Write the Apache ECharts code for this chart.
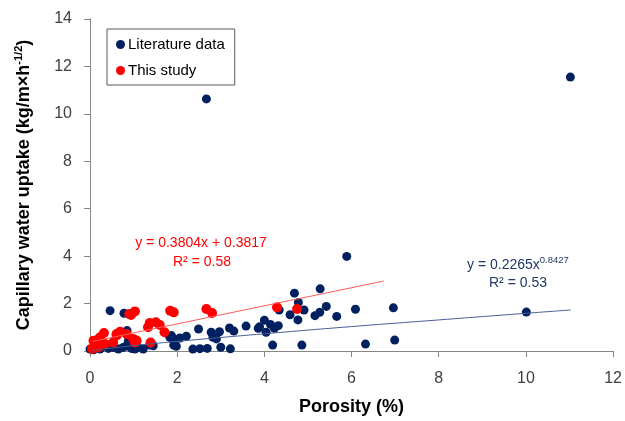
<!DOCTYPE html>
<html>
<head>
<meta charset="utf-8">
<script src="https://cdn.jsdelivr.net/npm/echarts@6/dist/echarts.min.js"></script>
<style>html,body{margin:0;padding:0;background:#fff}#c{width:625px;height:421px}</style>
</head>
<body>
<div id="c"></div>
<script>
// Data
const literatureData = [
  [0.00,0.08],[0.08,0.05],[0.23,0.08],[0.42,0.11],[0.53,0.15],[0.65,0.08],[0.76,0.15],[0.84,0.22],[0.95,0.11],[1.03,0.08],[1.10,0.15],[1.22,0.08],[1.37,0.25],[1.45,0.22],
  [0.46,1.70],[0.78,1.59],[0.85,0.86],[0.88,0.43],
  [1.83,0.58],[1.87,0.65],[1.90,0.48],[1.92,0.25],[1.98,0.20],[2.06,0.55],[2.21,0.62],[2.36,0.08],[2.49,0.93],[2.52,0.10],[2.67,10.63],[2.69,0.11],[2.78,0.79],[2.82,0.58],[2.90,0.51],[2.97,0.81],[3.00,0.16],[3.20,0.97],[3.22,0.09],[3.30,0.84],[3.58,1.05],[3.86,0.96],[3.89,1.02],[4.00,1.30],[4.04,0.79],[4.14,1.12],[4.19,0.25],[4.23,0.96],[4.32,1.07],[4.34,1.73],[4.59,1.53],[4.69,2.44],[4.77,1.31],[4.78,2.05],[4.86,0.25],[4.91,1.73],[5.16,1.49],[5.27,1.63],[5.28,2.62],[5.42,1.88],[5.66,1.46],[5.89,3.99],[6.09,1.76],[6.32,0.29],[6.96,1.82],[6.99,0.46],[10.01,1.64],[11.02,11.55]
];
const thisStudyData = [
  [0.05,0.10],[0.08,0.43],[0.12,0.22],[0.15,0.36],[0.19,0.15],[0.21,0.51],[0.23,0.58],[0.32,0.76],[0.34,0.30],[0.53,0.36],[0.61,0.65],[0.61,0.72],[0.69,0.81],[0.84,0.72],[0.90,1.56],[0.94,1.52],[0.99,0.51],[1.03,1.67],[1.03,0.36],[1.07,0.43],[1.33,1.00],[1.37,1.18],[1.39,0.36],[1.51,1.21],[1.60,1.10],[1.71,0.79],[1.84,1.70],[1.92,1.63],[2.67,1.77],[2.80,1.60],[4.29,1.84],[4.75,1.77]
];
// Trendlines
const literatureTrend = [[0.05,0.02],[0.5,0.126],[1,0.227],[2,0.405],[4,0.727],[6,1.03],[8,1.31],[10,1.59],[11.03,1.73]];
const thisStudyTrend = [[0.05,0.40],[6.74,2.95]];
const seriesNames = ['Literature data','This study'];
const xTicks = {min:0, max:12, interval:2};
const yTicks = {min:0, max:14, interval:2};
const eqStudy = ['y = 0.3804x + 0.3817','R² = 0.58'];
const eqLit = ['y = 0.2265x','0.8427','R² = 0.53'];

const NAVY = '#002060', RED = '#FF0000', AX = '#868686', LBL = '#404040', EQB = '#1F3864';
const FONT = 'Liberation Sans';

const chart = echarts.init(document.getElementById('c'), null, {renderer:'canvas'});
chart.setOption({
  animation: false,
  textStyle: {fontFamily: FONT},
  grid: {left: 90, right: 10, top: 19, bottom: 69, containLabel: false},
  legend: {
    orient: 'vertical', left: 107, top: 29,
    padding: [8, 10, 7, 9], itemGap: 11,
    itemWidth: 9, itemHeight: 9,
    backgroundColor: '#fff', borderColor: '#595959', borderWidth: 1,
    textStyle: {fontSize: 15, color: '#000', fontFamily: FONT, padding: [0,0,0,-2]},
    data: [{name: seriesNames[0], icon: 'circle'}, {name: seriesNames[1], icon: 'circle'}]
  },
  xAxis: {
    type: 'value', min: xTicks.min, max: xTicks.max, interval: xTicks.interval,
    name: 'Porosity (%)', nameLocation: 'middle', nameGap: 47,
    nameTextStyle: {fontSize: 18, fontWeight: 'bold', color: '#000', fontFamily: FONT},
    axisLine: {onZero: false, lineStyle: {color: AX, width: 1}},
    axisTick: {show: true, length: 6, inside: false, lineStyle: {color: AX}},
    axisLabel: {fontSize: 16, color: LBL, margin: 20, fontFamily: FONT},
    splitLine: {show: false}
  },
  yAxis: [{
    type: 'value', min: yTicks.min, max: yTicks.max, interval: yTicks.interval,
    name: '{a|Capillary water uptake (kg/m×h}{s|-1/2}{a|)}',
    nameLocation: 'middle', nameGap: 55, nameRotate: 90,
    nameTextStyle: {
      fontFamily: FONT,
      rich: {
        a: {fontSize: 18, fontWeight: 'bold', color: '#000', fontFamily: FONT, lineHeight: 22},
        s: {fontSize: 11, fontWeight: 'bold', color: '#000', fontFamily: FONT, verticalAlign: 'top', lineHeight: 22, padding: [0,0,10,0]}
      }
    },
    axisLine: {show: true, onZero: false, lineStyle: {color: AX, width: 1}},
    axisTick: {show: true, length: 6, lineStyle: {color: AX}},
    axisLabel: {fontSize: 16, color: LBL, margin: 18, fontFamily: FONT},
    splitLine: {show: false}
  }, {
    type: 'value', min: yTicks.min, max: yTicks.max, position: 'right',
    axisLine: {show: true, lineStyle: {color: AX, width: 1}},
    axisTick: {show: false}, axisLabel: {show: false}, splitLine: {show: false}
  }],
  series: [
    {name: seriesNames[0], type: 'scatter', data: literatureData, symbol: 'circle', symbolSize: 9,
     itemStyle: {color: NAVY, opacity: 1}, z: 2},
    {name: seriesNames[1], type: 'scatter', data: thisStudyData, symbol: 'circle', symbolSize: 10,
     itemStyle: {color: RED, opacity: 1}, z: 3},
    {type: 'line', data: literatureTrend, showSymbol: false, symbol: 'none', smooth: true,
     lineStyle: {color: '#4A5E98', width: 1}, z: 4, silent: true},
    {type: 'line', data: thisStudyTrend, showSymbol: false, symbol: 'none',
     lineStyle: {color: '#FF5B5B', width: 1}, z: 4, silent: true}
  ],
  graphic: [
    {type: 'text', position: [201, 243], style: {text: eqStudy[0], fill: RED, font: '14px ' + FONT, textAlign: 'center', textVerticalAlign: 'middle'}},
    {type: 'text', position: [202, 262], style: {text: eqStudy[1], fill: RED, font: '14px ' + FONT, textAlign: 'center', textVerticalAlign: 'middle'}},
    {type: 'text', position: [467, 265], style: {
      fill: EQB,
      rich: {m: {fontSize: 14, fontFamily: FONT, fill: EQB}, s: {fontSize: 9.5, fontFamily: FONT, fill: EQB, verticalAlign: 'top', padding: [0,0,9,0]}},
      text: '{m|' + eqLit[0] + '}{s|' + eqLit[1] + '}', textVerticalAlign: 'middle'}},
    {type: 'text', position: [518, 283], style: {text: eqLit[2], fill: EQB, font: '14px ' + FONT, textAlign: 'center', textVerticalAlign: 'middle'}}
  ]
});
</script>
</body>
</html>
